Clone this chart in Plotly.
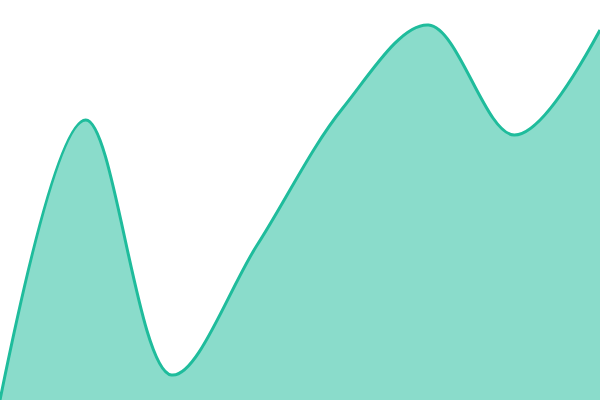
import plotly.graph_objects as go

x_values = [0, 1, 2, 3, 4, 5, 6, 7]
y_values = [0, 280, 25, 155, 292, 375, 265, 370]

fig = go.Figure()
fig.add_trace(go.Scatter(
    x=x_values, y=y_values,
    mode="lines",
    line=dict(shape="spline", smoothing=1, color="#1fbc9c", width=3),
    fill="tozeroy",
    fillcolor="rgba(31,188,156,0.52)",
    hoverinfo="skip",
))
fig.update_layout(
    width=600, height=400,
    margin=dict(l=0, r=0, t=0, b=0),
    paper_bgcolor="white", plot_bgcolor="white",
    showlegend=False,
    xaxis=dict(visible=False, range=[0, 7]),
    yaxis=dict(visible=False, range=[0, 400]),
)
fig.write_html(
    "out.html",
    config={"displayModeBar": False, "staticPlot": True},
    post_script="document.body.style.margin='0';document.body.style.overflow='hidden';",
)
